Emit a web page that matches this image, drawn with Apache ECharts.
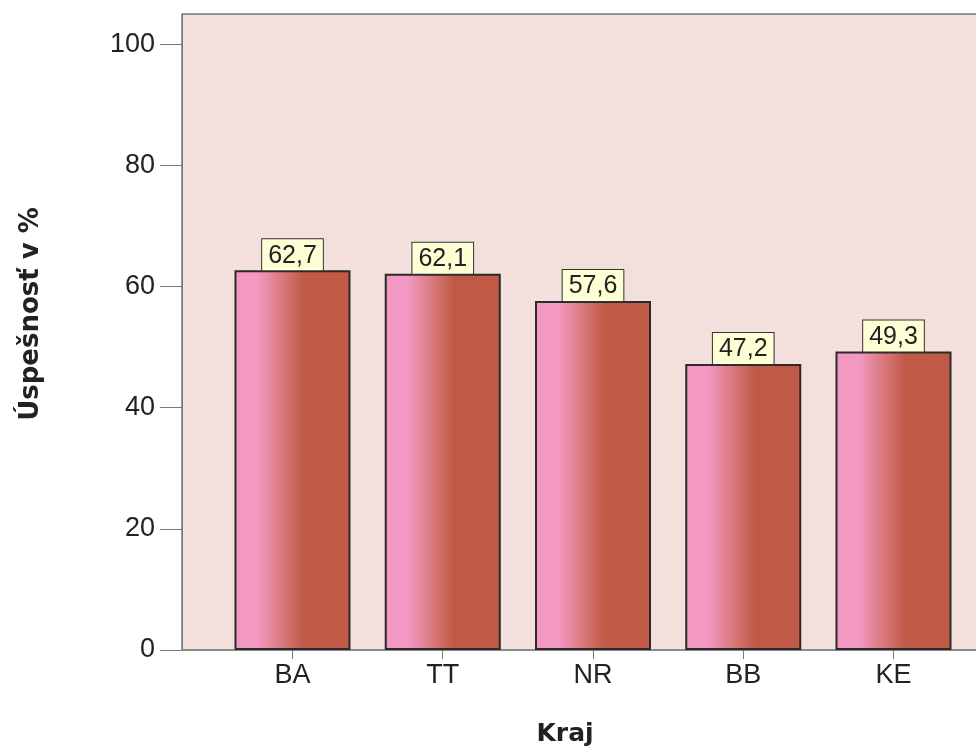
<!DOCTYPE html>
<html>
<head>
<meta charset="utf-8">
<script src="https://cdn.jsdelivr.net/npm/echarts@6/dist/echarts.min.js"></script>
<style>html,body{margin:0;padding:0;background:#fff;}#c{width:976px;height:746px;}</style>
</head>
<body>
<div id="c"></div>
<script>
const categories = ['BA', 'TT', 'NR', 'BB', 'KE'];
const values = [62.7, 62.1, 57.6, 47.2, 49.3];
const yTicks = [0, 20, 40, 60, 80, 100];
const positions = categories.map((c, i) => i);

const chart = echarts.init(document.getElementById('c'), null, {renderer: 'canvas'});
const barGradient = new echarts.graphic.LinearGradient(0, 0, 1, 0, [
  {offset: 0, color: '#F398C3'},
  {offset: 0.2, color: '#F398C3'},
  {offset: 0.42, color: '#D8777A'},
  {offset: 0.6, color: '#C05A46'},
  {offset: 1, color: '#C05A46'}
]);
chart.setOption({
  animation: false,
  grid: {
    left: 182, top: 14, right: -10, bottom: 96,
    outerBoundsMode: 'none', containLabel: false,
    show: true, backgroundColor: '#F3DFDB', borderColor: '#333', borderWidth: 1
  },
  xAxis: {
    type: 'value',
    min: -0.7354, max: 4.6156,
    name: 'Kraj',
    nameLocation: 'middle',
    nameGap: 72,
    nameTextStyle: {fontFamily: 'DejaVu Sans', fontWeight: 'bold', fontSize: 25, color: '#222', padding: [0, 38, 0, 0]},
    axisLine: {show: true, onZero: false, lineStyle: {color: '#888', width: 1}},
    axisTick: {show: true, length: 9, lineStyle: {color: '#777'}, customValues: positions},
    axisLabel: {
      customValues: positions, fontFamily: 'Liberation Sans', fontSize: 27, color: '#222', margin: 12,
      formatter: v => categories[Math.round(v)]
    },
    splitLine: {show: false}
  },
  yAxis: {
    type: 'value',
    min: 0, max: 105,
    name: 'Úspešnosť v %',
    nameLocation: 'middle',
    nameGap: 138,
    nameRotate: 90,
    nameTextStyle: {fontFamily: 'DejaVu Sans', fontWeight: 'bold', fontSize: 26, color: '#222', padding: [0, 0, 0, 36]},
    axisLine: {show: true, onZero: false, lineStyle: {color: '#777', width: 1}},
    axisTick: {show: true, length: 22, lineStyle: {color: '#777'}, customValues: yTicks},
    axisLabel: {customValues: yTicks, fontFamily: 'Liberation Sans', fontSize: 27, color: '#222', margin: 27},
    splitLine: {show: false}
  },
  series: [{
    type: 'bar',
    barWidth: 116,
    data: values.map((v, i) => [positions[i], v]),
    itemStyle: {color: barGradient, borderColor: '#2a2a2a', borderWidth: 2},
    label: {
      show: true, position: 'top', distance: 0,
      formatter: p => p.value[1].toFixed(1).replace('.', ','),
      fontFamily: 'Liberation Sans', fontSize: 25, color: '#222',
      backgroundColor: '#FFFFD6', borderColor: '#333', borderWidth: 1,
      padding: [4, 6, 2, 6]
    }
  }]
});
</script>
</body>
</html>
